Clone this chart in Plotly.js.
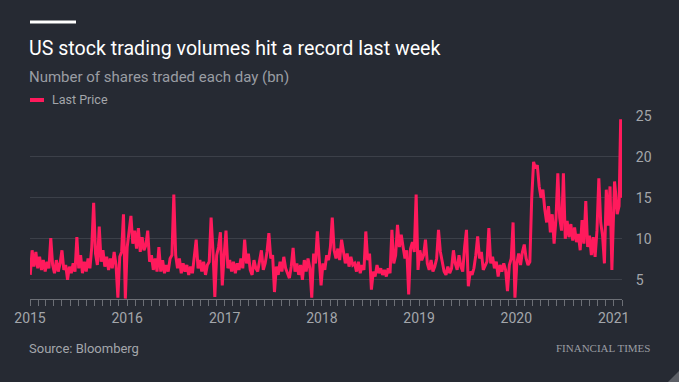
<!DOCTYPE html>
<html>
<head>
<meta charset="utf-8">
<script src="https://cdn.plot.ly/plotly-3.0.1.min.js"></script>
<style>
html,body{margin:0;padding:0;background:#262a33;}
#chart{width:679px;height:382px;}
</style>
</head>
<body>
<div id="chart"></div>
<script>
// Weekly readings (Fridays), number of shares traded each day, bn
const firstFriday = '2015-01-02';
const vals2015 = [5.6, 8.6, 6.6, 8.4, 6.4,  7.8, 6.2, 7.4, 6.0,  7.2, 6.4, 10.1, 6.8,  5.8, 7.4, 6.0, 7.0,
  8.6, 6.2, 6.8, 5.0, 6.6,  5.8, 7.0, 6.0, 10.2,  6.4, 8.0, 5.8, 7.2, 6.0,  7.6, 6.4, 9.0, 14.4,
  8.2, 6.8, 11.5, 7.2,  8.6, 6.6, 7.8, 6.2, 7.6,  6.4, 8.4, 6.8, 2.8,  7.8, 8.4, 13.0, 2.7];
const vals2016 = [9.0, 10.6, 12.8, 9.4, 11.0,  8.8, 11.3, 8.4, 10.2,  8.6, 9.2, 11.0, 7.2,  8.0, 6.2, 7.6, 6.0, 9.0,
  6.0, 7.4, 5.8, 6.8,  6.0, 7.6, 8.0, 15.4,  8.0, 6.4, 7.6, 5.8, 7.0,  6.0, 6.8, 5.6, 6.6,
  5.8, 8.0, 9.9, 6.4, 7.4,  6.0, 7.2, 5.6, 6.8,  7.2, 12.6, 8.6, 2.9,  8.0, 9.0, 10.8, 4.3, 8.0];
const vals2017 = [11.0, 6.4, 7.4, 6.0,  7.2, 5.8, 7.0, 6.2,  7.6, 6.4, 9.9, 7.0, 8.2,  6.2, 5.6, 7.4, 6.4,
  6.0, 7.2, 8.6, 6.2,  7.0, 8.4, 10.7, 7.6, 8.0,  3.5, 6.6, 5.6, 7.2,  6.0, 7.8, 6.4, 5.8,
  5.2, 6.6, 8.9, 6.0, 7.0,  5.6, 6.8, 5.0, 7.4,  6.0, 7.6, 6.4, 2.8,  8.2, 7.0, 10.9, 6.8, 4.3];
const vals2018 = [7.0, 6.2, 8.0, 7.4,  9.0, 12.6, 8.6, 7.6,  8.8, 7.4, 9.9, 8.6, 7.0,  8.2, 6.6, 7.8, 6.8,
  7.0, 6.0, 7.2, 5.8,  6.8, 6.2, 10.9, 7.4, 8.2,  3.8, 6.0, 5.4, 6.8,  5.8, 6.4, 5.6, 6.2, 5.4,
  6.4, 5.8, 11.1, 7.0,  8.0, 11.7, 9.0, 10.5,  9.0, 7.6, 8.6, 3.2, 8.8,  9.6, 8.4, 15.4, 6.2];
const vals2019 = [8.6, 7.4, 8.0, 9.9,  7.0, 6.2, 7.4, 6.0,  6.6, 7.6, 11.1, 8.4, 7.0,  6.0, 5.6, 6.6, 5.8,
  6.4, 8.6, 7.0, 6.2, 8.0,  6.6, 6.0, 9.0, 11.1,  4.2, 6.0, 5.6, 6.4,  8.0, 10.3, 7.6, 8.4, 6.2,
  6.8, 7.2, 11.3, 7.0,  7.8, 6.4, 7.2, 5.4,  6.8, 6.0, 7.0, 6.2, 3.6,  6.8, 7.6, 12.0, 2.8];
const vals2020 = [7.0, 8.2, 6.8, 8.4, 9.3,  7.6, 6.8, 7.2, 15.0,  19.4, 18.6, 19.0, 16.4,  15.0, 16.0, 13.6, 12.0,
  14.0, 10.8, 13.0, 9.4, 12.4,  18.0, 12.6, 11.0, 18.0,  10.0, 12.2, 10.2, 11.8, 9.8,  11.4, 9.6, 10.6, 8.6,
  12.3, 9.4, 14.6, 9.0,  10.4, 8.0, 10.2, 7.8, 11.0,  17.4, 12.0, 10.4, 7.0,  16.0, 11.6, 16.4, 6.2];
const dates2021 = ['2021-01-04', '2021-01-08', '2021-01-14', '2021-01-21', '2021-01-27', '2021-01-29'];
const vals2021 = [17.0, 15.6, 13.0, 14.0, 24.6, 15.0];

const seriesName = 'Last Price';
const yTicks = [5, 10, 15, 20, 25];

const weekly = [].concat(vals2015, vals2016, vals2017, vals2018, vals2019, vals2020);
const start = Date.parse(firstFriday + 'T00:00:00Z');
const xs = weekly.map((v, i) => new Date(start + i * 7 * 86400000).toISOString().slice(0, 10)).concat(dates2021);
const ys = weekly.concat(vals2021);

const BG = '#262a33';
const PINK = '#ff1a5c';
const GREY = '#a3a6ab';
const FONT = 'Roboto, "Open Sans", sans-serif';

// plot area: x 30..622, y 116..299
const px = x => (x - 30) / 592;
const py = y => (299 - y) / 183;

const trace = {
  x: xs, y: ys, type: 'scatter', mode: 'lines', name: seriesName,
  line: {color: PINK, width: 3, shape: 'linear'},
  hoverinfo: 'x+y', showlegend: false
};

const layout = {
  width: 679, height: 382,
  paper_bgcolor: BG, plot_bgcolor: BG,
  margin: {l: 30, r: 57, t: 116, b: 83, pad: 0},
  font: {family: FONT, color: GREY},
  title: {
    text: 'US stock trading volumes hit a record last week',
    font: {family: FONT, size: 19.6, color: '#ffffff'},
    xref: 'container', yref: 'container',
    x: 29 / 679, xanchor: 'left', y: 1 - 48 / 382, yanchor: 'middle'
  },
  xaxis: {
    type: 'date', range: ['2015-01-01', '2021-02-01'],
    tick0: '2015-01-01', dtick: 'M12', tickformat: '%Y',
    ticks: 'outside', ticklen: 6, tickwidth: 1, tickcolor: '#6c6f76',
    showline: true, linecolor: '#6c6f76', linewidth: 1,
    showgrid: false, zeroline: false,
    tickfont: {family: FONT, size: 14, color: GREY},
    minor: {dtick: 'M1', tick0: '2015-01-01', ticks: 'outside', ticklen: 6, tickwidth: 1, tickcolor: '#6c6f76', showgrid: false},
    fixedrange: true
  },
  yaxis: {
    side: 'right', range: [2.65, 25],
    tickmode: 'array', tickvals: yTicks, ticktext: yTicks.map(String),
    ticks: 'outside', ticklen: 10, tickcolor: 'rgba(0,0,0,0)',
    showgrid: true, gridcolor: '#3c4049', gridwidth: 1,
    zeroline: false, showline: false,
    tickfont: {family: FONT, size: 14, color: GREY},
    fixedrange: true
  },
  shapes: [
    {type: 'line', xref: 'paper', yref: 'paper', x0: 0, x1: px(76), y0: py(22), y1: py(22),
      line: {color: '#ffffff', width: 3}},
    {type: 'line', xref: 'paper', yref: 'paper', x0: 0, x1: px(44), y0: py(100), y1: py(100),
      line: {color: PINK, width: 4}},
    {type: 'path', xref: 'paper', yref: 'paper',
      path: `M ${px(679)} ${py(371)} L ${px(679)} ${py(382)} L ${px(668)} ${py(382)} Z`,
      fillcolor: '#5b5e65', line: {width: 0}}
  ],
  annotations: [
    {text: 'Number of shares traded each day (bn)', xref: 'paper', yref: 'paper',
      x: px(27), xanchor: 'left', y: py(76.5), yanchor: 'middle', showarrow: false,
      font: {family: FONT, size: 15, color: '#9a9da3'}},
    {text: seriesName, xref: 'paper', yref: 'paper',
      x: px(50), xanchor: 'left', y: py(100), yanchor: 'middle', showarrow: false,
      font: {family: FONT, size: 12.5, color: GREY}},
    {text: 'Source: Bloomberg', xref: 'paper', yref: 'paper',
      x: px(27), xanchor: 'left', y: py(348), yanchor: 'middle', showarrow: false,
      font: {family: FONT, size: 13, color: GREY}},
    {text: 'FINANCIAL TIMES', xref: 'paper', yref: 'paper',
      x: px(652), xanchor: 'right', y: py(348), yanchor: 'middle', showarrow: false,
      font: {family: '"Liberation Serif", "DejaVu Serif", serif', size: 11, color: '#9a9da3'}}
  ],
  hovermode: false
};

Plotly.newPlot('chart', [trace], layout, {displayModeBar: false, staticPlot: true});
</script>
</body>
</html>
